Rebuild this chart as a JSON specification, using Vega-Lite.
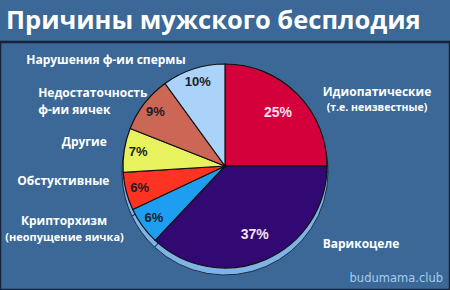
{
  "$schema": "https://vega.github.io/schema/vega-lite/v6.json",
  "width": 450,
  "height": 248,
  "autosize": "none",
  "padding": {"top": 42, "left": 0, "right": 0, "bottom": 0},
  "background": "#3b6896",
  "view": {"stroke": "#14233a", "strokeWidth": 2.5},
  "title": {"text": "Причины мужского бесплодия", "anchor": "start", "frame": "group", "font": "Open Sans", "fontSize": 25.5, "fontWeight": "bold", "color": "#ffffff", "baseline": "alphabetic", "offset": -12, "dx": 6},
  "data": {"values": [
    {"i": 1, "cause": "Идиопатические", "pct": 25, "share": "25%", "label": "Идиопатические", "note": "(т.е. неизвестные)"},
    {"i": 2, "cause": "Варикоцеле", "pct": 37, "share": "37%", "label": "Варикоцеле", "note": ""},
    {"i": 3, "cause": "Крипторхизм", "pct": 6, "share": "6%", "label": "Крипторхизм", "note": "(неопущение яичка)"},
    {"i": 4, "cause": "Обстуктивные", "pct": 6, "share": "6%", "label": "Обстуктивные", "note": ""},
    {"i": 5, "cause": "Другие", "pct": 7, "share": "7%", "label": "Другие", "note": ""},
    {"i": 6, "cause": "Недостаточность ф-ии яичек", "pct": 9, "share": "9%", "label": "Недостаточность\nф-ии яичек", "note": ""},
    {"i": 7, "cause": "Нарушения ф-ии спермы", "pct": 10, "share": "10%", "label": "Нарушения ф-ии спермы", "note": ""}
  ]},
  "transform": [
    {"stack": "pct", "groupby": [], "sort": [{"field": "i", "order": "ascending"}], "as": ["s0", "s1"]}
  ],
  "layer": [
    {"mark": {"type": "arc", "radius": 103, "yOffset": 6, "color": "#7fb3e6", "stroke": "#1d2f4a", "strokeWidth": 1},
     "encoding": {"theta": {"field": "s0", "type": "quantitative", "scale": {"domain": [0, 100]}}, "theta2": {"field": "s1"}}},
    {"mark": {"type": "arc", "radius": 102, "stroke": "#111111", "strokeWidth": 1.2},
     "encoding": {"theta": {"field": "s0", "type": "quantitative", "scale": {"domain": [0, 100]}}, "theta2": {"field": "s1"},
       "color": {"field": "cause", "type": "nominal", "legend": null,
       "scale": {"domain": ["Идиопатические", "Варикоцеле", "Крипторхизм", "Обстуктивные", "Другие", "Недостаточность ф-ии яичек", "Нарушения ф-ии спермы"],
                 "range": ["#d3003c", "#320873", "#1e9ef0", "#ff3322", "#e8f25e", "#cc6655", "#abd2f8"]}}}},
    {"mark": {"type": "text", "radius": 88, "font": "Liberation Sans", "fontSize": 13, "fontWeight": "bold", "color": "#1c1c2a"},
     "encoding": {"theta": {"field": "pct", "type": "quantitative", "stack": true}, "order": {"field": "i", "type": "quantitative"},
       "text": {"condition": {"test": "datum.pct < 20", "field": "share"}, "value": ""}}},
    {"mark": {"type": "text", "radius": 75, "font": "Liberation Sans", "fontSize": 14, "fontWeight": "bold", "color": "#f3e3ee"},
     "encoding": {"theta": {"field": "pct", "type": "quantitative", "stack": true}, "order": {"field": "i", "type": "quantitative"},
       "text": {"condition": {"test": "datum.pct >= 20", "field": "share"}, "value": ""}}},
    {"transform": [{"filter": "datum.i == 1"}],
     "mark": {"type": "text", "radius": 130, "dx": 152, "dy": 56, "font": "Open Sans", "fontSize": 12, "fontWeight": "bold", "color": "#ffffff"},
     "encoding": {"theta": {"field": "s0", "type": "quantitative"}, "text": {"field": "label"}}},
    {"transform": [{"filter": "datum.i == 1"}],
     "mark": {"type": "text", "radius": 130, "dx": 152, "dy": 72, "font": "Open Sans", "fontSize": 10.5, "fontWeight": "bold", "color": "#ffffff"},
     "encoding": {"theta": {"field": "s0", "type": "quantitative"}, "text": {"field": "note"}}},
    {"transform": [{"filter": "datum.i == 2"}],
     "mark": {"type": "text", "radius": 130, "dx": 6, "dy": 78, "font": "Open Sans", "fontSize": 12, "fontWeight": "bold", "color": "#ffffff"},
     "encoding": {"theta": {"field": "s0", "type": "quantitative"}, "text": {"field": "label"}}},
    {"transform": [{"filter": "datum.i == 3"}],
     "mark": {"type": "text", "radius": 130, "dx": -72, "dy": -40, "font": "Open Sans", "fontSize": 12, "fontWeight": "bold", "color": "#ffffff"},
     "encoding": {"theta": {"field": "s0", "type": "quantitative"}, "text": {"field": "label"}}},
    {"transform": [{"filter": "datum.i == 3"}],
     "mark": {"type": "text", "radius": 130, "dx": -71.5, "dy": -23, "font": "Open Sans", "fontSize": 11, "fontWeight": "bold", "color": "#ffffff"},
     "encoding": {"theta": {"field": "s0", "type": "quantitative"}, "text": {"field": "note"}}},
    {"transform": [{"filter": "datum.i == 4"}],
     "mark": {"type": "text", "radius": 130, "dx": -44, "dy": -40, "font": "Open Sans", "fontSize": 12, "fontWeight": "bold", "color": "#ffffff"},
     "encoding": {"theta": {"field": "s0", "type": "quantitative"}, "text": {"field": "label"}}},
    {"transform": [{"filter": "datum.i == 5"}],
     "mark": {"type": "text", "radius": 130, "dx": -11, "dy": -32, "font": "Open Sans", "fontSize": 12, "fontWeight": "bold", "color": "#ffffff"},
     "encoding": {"theta": {"field": "s0", "type": "quantitative"}, "text": {"field": "label"}}},
    {"transform": [{"filter": "datum.i == 6"}],
     "mark": {"type": "text", "radius": 130, "dx": -66, "dy": -25.6, "align": "left", "lineBreak": "\n", "lineHeight": 17, "font": "Open Sans", "fontSize": 12, "fontWeight": "bold", "color": "#ffffff"},
     "encoding": {"theta": {"field": "s0", "type": "quantitative"}, "text": {"field": "label"}}},
    {"transform": [{"filter": "datum.i == 7"}],
     "mark": {"type": "text", "radius": 130, "dx": -42.6, "dy": -1, "font": "Open Sans", "fontSize": 12, "fontWeight": "bold", "color": "#ffffff"},
     "encoding": {"theta": {"field": "s0", "type": "quantitative"}, "text": {"field": "label"}}},
    {"data": {"values": [{"t": "budumama.club"}]},
     "mark": {"type": "text", "x": "width", "y": "height", "align": "right", "baseline": "middle", "dx": -7, "dy": -11, "font": "DejaVu Sans", "fontSize": 11.5, "color": "#a6cdf0"},
     "encoding": {"text": {"field": "t", "type": "nominal"}}}
  ]
}
